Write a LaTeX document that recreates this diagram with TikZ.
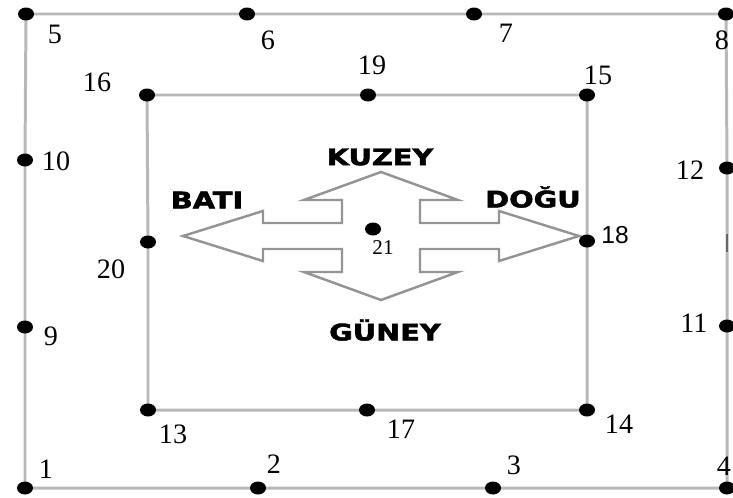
\documentclass[tikz,border=0pt]{standalone}
\usepackage{fontspec}
\setmainfont{Liberation Serif}
\setsansfont{Liberation Sans}
\newfontfamily\yonfont{DejaVu Sans}[BoldFeatures={FakeBold=2}]
\usetikzlibrary{arrows.meta,calc}

\tikzset{
	yol/.style={line width=1.7pt,black!28},
	nokta/.style={black},
	etiket/.style={inner sep=0pt,font=\fontsize{16}{16}\selectfont},
	yon/.style={inner sep=0pt,font=\yonfont\bfseries\fontsize{13}{13}\selectfont},
}
\newcommand{\genis}[1]{\scalebox{1.26}[1]{#1}}

\begin{document}
\begin{tikzpicture}[x=0.02cm,y=-0.02cm]

			\useasboundingbox (0,0) rectangle (733,497);

			% dis kare
			\coordinate (p1) at (25, 488);
			\coordinate (p2) at (258, 488);
			\coordinate (p3) at (493, 488);
			\coordinate (p4) at (727, 488);
			\coordinate (p5) at (26, 14);
			\coordinate (p6) at (247, 14);
			\coordinate (p7) at (474, 14);
			\coordinate (p8) at (726, 14);
			\coordinate (p9) at (25, 327);
			\coordinate (p10) at (25, 160);
			\coordinate (p11) at (727, 326);
			\coordinate (p12) at (727, 168);
			% ic kare
			\coordinate (p13) at (148, 410);
			\coordinate (p14) at (587, 410);
			\coordinate (p15) at (587, 95);
			\coordinate (p16) at (147, 95);
			\coordinate (p17) at (367, 410);
			\coordinate (p18) at (587, 241);
			\coordinate (p19) at (368, 95);
			\coordinate (p20) at (148, 242);
			\coordinate (p21) at (373, 229);
			\coordinate (c) at (381, 236);

			\draw[yol] (p1) -- (p2) -- (p3) -- (p4) -- (p11) -- (p12) -- (p8) -- (p7) -- (p6) -- (p5) -- (p10) -- (p9) -- (p1);
			\draw[yol] (p13) -- (p17) -- (p14) -- (p18) -- (p15) -- (p19) -- (p16) -- (p20) -- (p13);
			\draw[line width=1.5pt,black!60] (727, 234) -- (727, 252);

			% yon oku
			\draw[line width=1.4pt,black!42,fill=white,line join=miter,shift={(c)}]
				(0,-64) -- (77,-36) -- (39,-36) -- (39,-13) -- (118,-13) -- (118,-25) -- (198,0)
				-- (118,25) -- (118,13) -- (39,13) -- (39,36) -- (77,36) -- (0,64)
				-- (-77,36) -- (-39,36) -- (-39,13) -- (-118,13) -- (-118,25) -- (-198,0)
				-- (-118,-25) -- (-118,-13) -- (-39,-13) -- (-39,-36) -- (-77,-36) -- cycle;

			\node[yon] (kuzey) at (380, 157) {\genis{KUZEY}};
			\node[yon] (dogu) at (533, 197) {\genis{DOĞU}};
			\node[yon] (bati) at (207, 200) {\genis{BATI}};
			\node[yon] (guney) at (385, 330) {\genis{GÜNEY}};

			\foreach \p in {1,...,21}
				\fill[nokta] (p\p) ellipse[x radius=0.16cm,y radius=0.13cm];

			\node[etiket] (l1) at (46, 469) {1};
			\node[etiket] (l2) at (274, 464) {2};
			\node[etiket] (l3) at (514, 465) {3};
			\node[etiket] (l4) at (724, 466) {4};
			\node[etiket] (l5) at (55, 34) {5};
			\node[etiket] (l6) at (268, 40) {6};
			\node[etiket] (l7) at (506, 33) {7};
			\node[etiket] (l8) at (722, 40) {8};
			\node[etiket] (l9) at (51, 336) {9};
			\node[etiket] (l10) at (56, 161) {10};
			\node[etiket] (l11) at (694, 323) {11};
			\node[etiket] (l12) at (690, 170) {12};
			\node[etiket] (l13) at (173, 434) {13};
			\node[etiket] (l14) at (619, 424) {14};
			\node[etiket] (l15) at (598, 75) {15};
			\node[etiket] (l16) at (97, 82) {16};
			\node[etiket] (l17) at (401, 429) {17};
			\node[etiket,font=\sffamily\fontsize{14}{14}\selectfont] (l18) at (615, 235) {18};
			\node[etiket] (l19) at (372, 65) {19};
			\node[etiket] (l20) at (111, 269) {20};
			\node[etiket,font=\fontsize{12}{12}\selectfont] (l21) at (383, 248) {21};

		\end{tikzpicture}
\end{document}
